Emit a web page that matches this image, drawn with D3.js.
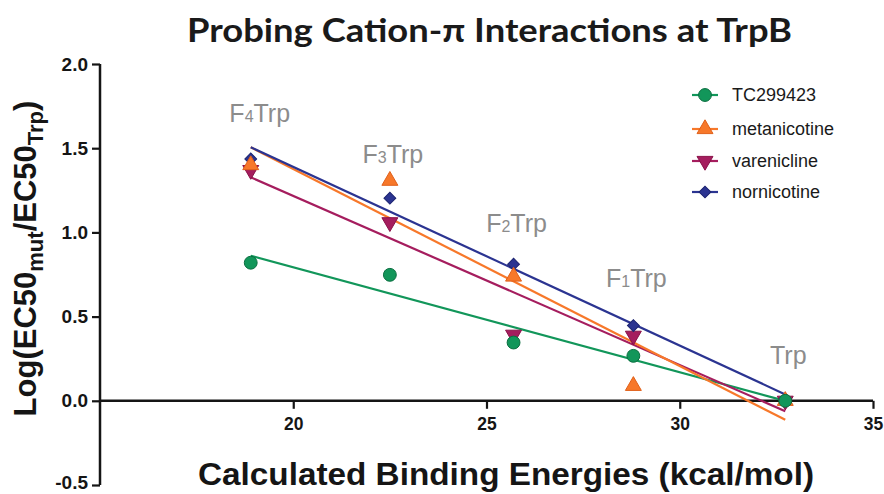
<!DOCTYPE html>
<html>
<head>
<meta charset="utf-8">
<script src="https://cdn.jsdelivr.net/npm/d3@7/dist/d3.min.js"></script>
<style>
  html, body { margin: 0; padding: 0; background: #fff; }
  svg { display: block; }
</style>
</head>
<body>
<svg id="chart" width="884" height="494"></svg>
<script>
// ---- data ----
const energies = [18.9, 22.5, 25.7, 28.8, 32.73];
const mutantLabels = ["F4Trp", "F3Trp", "F2Trp", "F1Trp", "Trp"];
const labelLevels = [1.655, 1.41, 1.0, 0.675, 0.22];
const seriesNames = ["TC299423", "metanicotine", "varenicline", "nornicotine"];
const tc299423 = [0.82, 0.748, 0.346, 0.267, 0.0];
const metanicotine = [1.40, 1.307, 0.738, 0.089, 0.0];
const varenicline = [1.37, 1.06, 0.392, 0.386, 0.0];
const nornicotine = [1.436, 1.203, 0.811, 0.447, 0.01];
const xTicks = [20, 25, 30, 35];
const yTicks = [-0.5, 0.0, 0.5, 1.0, 1.5, 2.0];

const colors = ["#12965a", "#f7782a", "#a51d5e", "#2b3491"];
const strokes = ["#0b6e40", "#e0601a", "#8a1148", "#1d2470"];
const allSeries = [tc299423, metanicotine, varenicline, nornicotine];

const svg = d3.select("#chart");
const x = d3.scaleLinear().domain([15, 35]).range([100, 873]);
const y = d3.scaleLinear().domain([-0.5, 2.0]).range([485, 64]);

// ---- title ----
svg.append("text")
  .attr("x", 187).attr("y", 42)
  .attr("textLength", 605).attr("lengthAdjust", "spacingAndGlyphs")
  .style("font-family", "Lato, 'Open Sans', sans-serif")
  .style("font-weight", "bold").style("font-size", "33px").style("fill", "#1a1a1a")
  .text("Probing Cation-\u03C0 Interactions at TrpB");

// ---- axes ----
const axisColor = "#151515";
const fmtY = d => d3.format(".1f")(d).replace("\u2212", "-");
const yAxis = d3.axisLeft(y).tickValues(yTicks).tickFormat(fmtY).tickSize(8).tickPadding(4);
const gy = svg.append("g").attr("transform", `translate(${x(15)},0)`).call(yAxis);
const xAxis = d3.axisBottom(x).tickValues(xTicks).tickFormat(d3.format("d")).tickSize(8).tickPadding(8);
const gx = svg.append("g").attr("transform", `translate(0,${y(0)})`).call(xAxis);
[gx, gy].forEach(g => {
  g.select(".domain").attr("stroke", axisColor).attr("stroke-width", 2.5);
  g.selectAll(".tick line").attr("stroke", axisColor).attr("stroke-width", 2.2);
  g.selectAll(".tick text").attr("fill", "#151515")
   .style("font-family", "'Liberation Sans', Arial, sans-serif")
   .style("font-weight", "bold").style("font-size", "19px");
});
gy.select(".domain").attr("d", `M0,${y(2.0)}V${y(-0.5)}`);
gx.select(".domain").attr("d", `M${x(15)},0H${x(35)}`);
gx.selectAll(".tick text").attr("transform", "scale(0.92,1)");
gy.selectAll(".tick text").filter(d => d < 0).attr("dy", "0.2em");

// ---- axis titles ----
const yl = svg.append("text")
  .attr("transform", `translate(36,${(95 + 422) / 2}) rotate(-90)`)
  .attr("text-anchor", "middle")
  .style("font-family", "'Liberation Sans', Arial, sans-serif")
  .style("font-weight", "bold").style("font-size", "31px").style("fill", "#151515");
yl.append("tspan").text("Log(EC50");
yl.append("tspan").attr("dy", 7).style("font-size", "22px").text("mut");
yl.append("tspan").attr("dy", -7).text("/EC50");
yl.append("tspan").attr("dy", 7).style("font-size", "22px").text("Trp");
yl.append("tspan").attr("dy", -7).text(")");

svg.append("text")
  .attr("x", 198).attr("y", 485)
  .attr("textLength", 616).attr("lengthAdjust", "spacingAndGlyphs")
  .style("font-family", "'Liberation Sans', Arial, sans-serif")
  .style("font-weight", "bold").style("font-size", "31px").style("fill", "#151515")
  .text("Calculated Binding Energies (kcal/mol)");

// ---- mutant labels ----
mutantLabels.forEach((lab, i) => {
  const t = svg.append("text")
    .attr("x", x(energies[i]) + (i === 0 ? 9 : 3)).attr("y", y(labelLevels[i]))
    .attr("text-anchor", "middle")
    .style("font-family", "'Liberation Sans', Arial, sans-serif")
    .style("font-size", "25px").style("fill", "#8c8c8c");
  if (lab.length > 3) {
    t.append("tspan").text(lab[0]);
    t.append("tspan").style("font-size", "16px").text(lab[1]);
    t.append("tspan").text(lab.slice(2));
  } else {
    t.text(lab);
  }
});

// ---- regression lines ----
function fit(xs, ys) {
  const mx = d3.mean(xs), my = d3.mean(ys);
  let sxy = 0, sxx = 0;
  xs.forEach((xv, i) => { sxy += (xv - mx) * (ys[i] - my); sxx += (xv - mx) * (xv - mx); });
  const b = sxy / sxx;
  return xv => my + b * (xv - mx);
}
const xMin = d3.min(energies), xMax = d3.max(energies);
const lineOrder = [0, 2, 1, 3];
lineOrder.forEach(si => {
  const f = fit(energies, allSeries[si]);
  svg.append("line")
    .attr("x1", x(xMin)).attr("y1", y(f(xMin)))
    .attr("x2", x(xMax)).attr("y2", y(f(xMax)))
    .attr("stroke", colors[si]).attr("stroke-width", 2.2);
});

// ---- markers ----
const symbols = [
  { type: d3.symbolCircle, size: 130, rot: 0 },
  { type: d3.symbolTriangle, size: 110, rot: 0 },
  { type: d3.symbolTriangle, size: 110, rot: 180 },
  { type: d3.symbolSquare, size: 70, rot: 45 }
];
function drawMarker(g, si, cx, cy) {
  const s = symbols[si];
  g.append("path")
    .attr("d", d3.symbol().type(s.type).size(s.size)())
    .attr("transform", `translate(${cx},${cy}) rotate(${s.rot})`)
    .attr("fill", colors[si]).attr("stroke", strokes[si]).attr("stroke-width", 1);
}
const markerOrder = [2, 3, 1, 0];
const gm = svg.append("g");
markerOrder.forEach(si => {
  allSeries[si].forEach((v, i) => drawMarker(gm, si, x(energies[i]), y(v)));
});

// ---- legend ----
const legendRows = [95, 129, 161, 192];
seriesNames.forEach((name, si) => {
  const ly = legendRows[si];
  svg.append("line").attr("x1", 692).attr("x2", 718).attr("y1", ly).attr("y2", ly)
    .attr("stroke", colors[si]).attr("stroke-width", 2.2);
  drawMarker(svg, si, 705, ly);
  svg.append("text").attr("x", 732).attr("y", ly + 6)
    .style("font-family", "'Liberation Sans', Arial, sans-serif")
    .style("font-size", "18px").style("fill", "#1a1a1a")
    .text(name);
});
</script>
</body>
</html>
